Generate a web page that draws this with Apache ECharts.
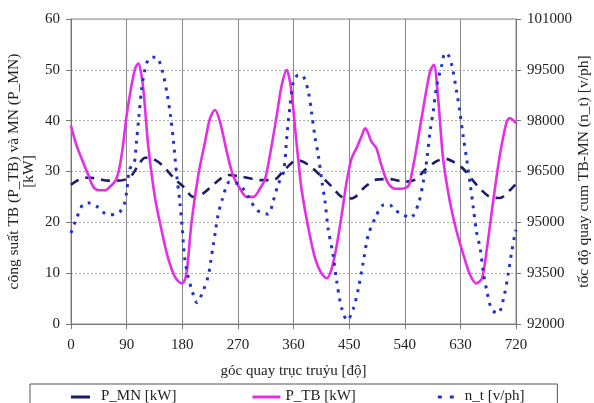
<!DOCTYPE html>
<html>
<head>
<meta charset="utf-8">
<script src="https://cdn.jsdelivr.net/npm/echarts@6/dist/echarts.min.js"></script>
<style>html,body{margin:0;padding:0;background:#fff}#c{width:594px;height:403px}</style>
</head>
<body>
<div id="c"></div>
<script>
// X ticks (crank angle, degrees)
const xTicks = [0, 90, 180, 270, 360, 450, 540, 630, 720];
const leftTicks = [0, 10, 20, 30, 40, 50, 60];
const rightTicks = [92000, 93500, 95000, 96500, 98000, 99500, 101000];

// P_MN [kW]
const pmnAngle = [0, 10, 20, 30, 45, 60, 75, 90, 100, 110, 120, 130, 147, 168, 182, 198, 214, 233, 254, 276, 306, 327, 343, 360, 368, 384, 403, 422, 438, 454, 476, 494, 516, 540, 559, 570, 591, 606, 620, 635, 656, 678, 694, 710, 720];
const pmnValue = [27.4, 28.2, 28.7, 28.8, 28.5, 28.2, 28.2, 28.5, 29.5, 31.5, 32.7, 32.6, 31.3, 28.5, 27.0, 25.0, 25.7, 27.7, 29.3, 29.0, 28.3, 28.3, 30.0, 32.0, 32.2, 31.3, 29.3, 27.0, 25.0, 24.7, 27.0, 28.4, 28.5, 28.0, 28.5, 30.0, 32.0, 32.5, 31.8, 30.5, 27.4, 25.0, 24.8, 26.3, 27.6];

// P_TB [kW]
const ptbAngle = [0, 8, 17, 28, 36, 45, 55, 63, 72, 78, 84, 90, 98, 104, 109, 114, 118, 125, 136, 147, 157, 168, 179, 184, 188, 195, 206, 217, 225, 233, 241, 252, 262, 273, 284, 295, 306, 314, 322, 333, 341, 349, 353, 357, 363, 368, 373, 384, 395, 405, 414, 422, 430, 438, 446, 454, 462, 470, 476, 481, 486, 494, 502, 513, 524, 535, 546, 552, 559, 570, 581, 587, 594, 602, 613, 624, 635, 646, 656, 665, 673, 683, 694, 705, 710, 718, 720];
const ptbValue = [39, 35.5, 32.6, 29.3, 27, 26.3, 26.3, 27, 28.2, 30.5, 35, 41, 47, 50.3, 51.3, 49, 45, 35, 24.8, 18.2, 13, 9.3, 8.0, 8.6, 11, 20, 29.3, 35.9, 40.5, 42.1, 39.8, 33.9, 29.3, 26.7, 25, 25, 26.7, 28.5, 33.3, 41.1, 47, 50, 48.5, 45.5, 38, 32, 26.5, 18.9, 12.9, 10, 9.0, 11, 15.5, 21.5, 28, 32.6, 34.6, 36.9, 38.5, 37.5, 35.9, 34.6, 31.3, 27.7, 26.6, 26.6, 27.2, 30, 34.6, 42.5, 49.7, 51, 44.4, 32.6, 24.1, 18.2, 13.6, 9.6, 8.0, 9.0, 14.9, 24.1, 33.3, 39.8, 40.5, 39.8, 39.5];

// n_t [v/ph]
const ntAngle = [0, 9, 20, 30, 42, 52, 61, 72, 80, 86, 90, 95, 102, 106, 110, 114, 119, 125, 133, 140, 148, 155, 161, 166, 171, 176, 180, 184, 189, 195, 204, 214, 222, 226, 230, 234, 238, 245, 257, 273, 287, 301, 319, 327, 335, 344, 349, 354, 360, 368, 376, 384, 389, 395, 400, 406, 411, 416, 424, 430, 438, 447, 457, 465, 473, 481, 492, 505, 515, 524, 537, 549, 562, 570, 576, 581, 586, 592, 600, 605, 610, 616, 624, 629, 635, 640, 646, 651, 656, 662, 667, 673, 681, 691, 700, 708, 713, 718, 720];
const ntValue = [94685, 95120, 95540, 95570, 95465, 95300, 95225, 95240, 95330, 95525, 95900, 96575, 96725, 97400, 98150, 98900, 99455, 99800, 99875, 99850, 99450, 98850, 98150, 97350, 96395, 95615, 94820, 93935, 93440, 93035, 92630, 92990, 93410, 93845, 94310, 94775, 95225, 95690, 96200, 96110, 95750, 95360, 95240, 95615, 96110, 96500, 97490, 98375, 99155, 99350, 99305, 98855, 98270, 97490, 96995, 96200, 95615, 94820, 94040, 93245, 92465, 92105, 92465, 93050, 93845, 94625, 95120, 95510, 95525, 95360, 95225, 95135, 95540, 96200, 96890, 97685, 98270, 99050, 99650, 99995, 99950, 99650, 98855, 98270, 97490, 96890, 96110, 95420, 94730, 94235, 93545, 92960, 92420, 92315, 92765, 93545, 94130, 94625, 94775];

const pair = (xs, ys) => xs.map((x, i) => [x, ys[i]]);
const FONT = 'Liberation Serif';
const lab = {fontFamily: FONT, fontSize: 15, color: '#222'};

const chart = echarts.init(document.getElementById('c'));
chart.setOption({
  animation: false,
  backgroundColor: '#fff',
  grid: {left: 71, right: 78, top: 19, bottom: 79, containLabel: false, outerBoundsMode: 'none',
         show: true, borderColor: '#888', borderWidth: 1},
  xAxis: {
    type: 'value', min: xTicks[0], max: xTicks[xTicks.length - 1], interval: 90,
    name: 'góc quay trục truỷu [độ]', nameLocation: 'middle', nameGap: 40,
    nameTextStyle: {fontFamily: FONT, fontSize: 15, color: '#222'},
    axisLine: {lineStyle: {color: '#777'}},
    axisTick: {show: true, length: 5, lineStyle: {color: '#777'}},
    axisLabel: Object.assign({margin: 14}, lab),
    splitLine: {show: true, lineStyle: {color: '#888', type: 'solid', width: 1}}
  },
  yAxis: [{
    type: 'value', min: leftTicks[0], max: leftTicks[leftTicks.length - 1], interval: 10,
    name: 'công suất TB (P_TB) và MN (P_MN)\n[kW]', nameLocation: 'middle', nameGap: 35, nameRotate: 90,
    nameMoveOverlap: false,
    nameTextStyle: {fontFamily: FONT, fontSize: 15.5, color: '#222', lineHeight: 15},
    axisLine: {show: true, lineStyle: {color: '#777'}},
    axisTick: {show: true, length: 5, lineStyle: {color: '#777'}},
    axisLabel: Object.assign({margin: 11}, lab),
    splitLine: {show: true, lineStyle: {color: '#aaa', type: [2, 2], width: 1}}
  }, {
    type: 'value', min: rightTicks[0], max: rightTicks[rightTicks.length - 1], interval: 1500,
    position: 'right',
    name: 'tốc độ quay cum TB-MN (n_t) [v/ph]', nameLocation: 'middle', nameGap: 60, nameRotate: 90,
    nameMoveOverlap: false,
    nameTextStyle: {fontFamily: FONT, fontSize: 15.5, color: '#222'},
    axisLine: {show: true, lineStyle: {color: '#777'}},
    axisTick: {show: true, length: 5, lineStyle: {color: '#777'}},
    axisLabel: Object.assign({margin: 11, formatter: v => String(v)}, lab),
    splitLine: {show: false}
  }],
  legend: {
    top: 384, left: 30,
    padding: [5, 33, 8, 38], itemGap: 76, itemWidth: 28, itemHeight: 10,
    borderColor: '#555', borderWidth: 1,
    textStyle: {fontFamily: FONT, fontSize: 15, color: '#222'},
    data: [
      {name: 'P_MN [kW]', icon: 'path://M0,0 L28,10 L0,0 Z M3,4 L22,4 L22,7 L3,7 Z'},
      {name: 'P_TB [kW]', icon: 'path://M0,0 L28,10 L0,0 Z M0,4 L28,4 L28,7 L0,7 Z'},
      {name: 'n_t [v/ph]', icon: 'path://M0,0 L28,10 L0,0 Z M6,4 L10,4 L10,7 L6,7 Z M18,4 L22,4 L22,7 L18,7 Z'}
    ]
  },
  series: [{
    name: 'P_MN [kW]', type: 'line', yAxisIndex: 0, data: pair(pmnAngle, pmnValue),
    smooth: 0.3, symbol: 'none', z: 3,
    lineStyle: {color: '#1c1c6a', width: 2.6, type: [9, 7]}, itemStyle: {color: '#1c1c6a'}
  }, {
    name: 'P_TB [kW]', type: 'line', yAxisIndex: 0, data: pair(ptbAngle, ptbValue),
    smooth: 0.3, symbol: 'none', z: 4,
    lineStyle: {color: '#e62ee6', width: 2.6, type: 'solid'}, itemStyle: {color: '#e62ee6'}
  }, {
    name: 'n_t [v/ph]', type: 'line', yAxisIndex: 1, data: pair(ntAngle, ntValue),
    smooth: 0.3, symbol: 'none', z: 5,
    lineStyle: {color: '#2233cc', width: 3, type: [3, 6]}, itemStyle: {color: '#2233cc'}
  }]
});
</script>
</body>
</html>
